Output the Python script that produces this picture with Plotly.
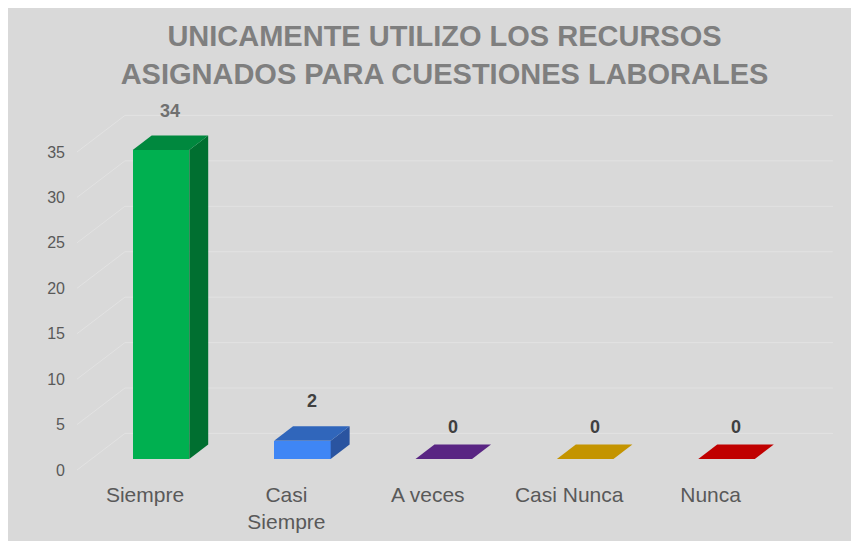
import plotly.graph_objects as go

# data
categories = ["Siempre", "Casi Siempre", "A veces", "Casi Nunca", "Nunca"]
tick_labels = ["Siempre", "Casi<br>Siempre", "A veces", "Casi Nunca", "Nunca"]
values = [34, 2, 0, 0, 0]
y_ticks = [0, 5, 10, 15, 20, 25, 30, 35]

front_colors = ["#00b050", "#3f86f5", "#7030a0", "#ffc000", "#ff0000"]
top_colors = ["#00883e", "#3066bb", "#592583", "#c49400", "#c00000"]
side_colors = ["#006f30", "#2a54a0", "#46205f", "#9c7600", "#990000"]
label_colors = ["#707070", "#404040", "#404040", "#404040", "#404040"]

# page body has an 8px margin, so the figure is a bit smaller than the window
W, H = 851, 533
ML, MR, MT, MB = 69, 9, 87, 65
PW, PH = W - ML - MR, H - MT - MB

X_RANGE = [-0.481, 4.986]
Y_RANGE = [-0.66, 41.27]

# fake 3d geometry (in axis units)
FLOOR_DX, FLOOR_DY = 0.339, 4.02
BACK_RIGHT = 4.865
BAR_SHIFT, BAR_BASE, BAR_W = 0.113, 1.21, 0.40
BAR_DX, BAR_DY = 0.134, 1.6

BG = "#d9d9d9"
GRID = "#e2e2e2"
FONT = "Arial, Liberation Sans, sans-serif"


def px_x(p):
    return (p - ML) / PW


x_pos = list(range(len(categories)))
fig = go.Figure()

fig.add_trace(go.Bar(
    x=[x + BAR_SHIFT for x in x_pos],
    y=values,
    base=BAR_BASE,
    width=BAR_W,
    marker=dict(color=front_colors, line=dict(width=0)),
    hoverinfo="skip",
    showlegend=False,
))

shapes = []
# side wall + back wall gridlines
xl = X_RANGE[0]
for v in y_ticks:
    shapes.append(dict(type="line", xref="x", yref="y", layer="below",
                       x0=xl, y0=v, x1=xl + FLOOR_DX, y1=v + FLOOR_DY,
                       line=dict(color=GRID, width=1)))
    shapes.append(dict(type="line", xref="x", yref="y", layer="below",
                       x0=xl + FLOOR_DX, y0=v + FLOOR_DY, x1=BACK_RIGHT, y1=v + FLOOR_DY,
                       line=dict(color=GRID, width=1)))

# top and side faces of the bars
for x, v, tc, sc in zip(x_pos, values, top_colors, side_colors):
    l = x + BAR_SHIFT - BAR_W / 2
    r = x + BAR_SHIFT + BAR_W / 2
    b = BAR_BASE
    t = BAR_BASE + v
    if v > 0:
        shapes.append(dict(type="path", xref="x", yref="y", layer="above",
                           path=f"M{r},{b} L{r + BAR_DX},{b + BAR_DY} L{r + BAR_DX},{t + BAR_DY} L{r},{t} Z",
                           fillcolor=sc, line=dict(width=0)))
    shapes.append(dict(type="path", xref="x", yref="y", layer="above",
                       path=f"M{l},{t} L{r},{t} L{r + BAR_DX},{t + BAR_DY} L{l + BAR_DX},{t + BAR_DY} Z",
                       fillcolor=tc, line=dict(width=0)))

annotations = []
for x, v, c in zip(x_pos, values, label_colors):
    annotations.append(dict(
        x=x + BAR_SHIFT + BAR_DX / 2, y=BAR_BASE + v + BAR_DY,
        xref="x", yref="y", text=f"<b>{v}</b>", showarrow=False,
        yanchor="middle", yshift=25 if v > 0 else 17,
        font=dict(family=FONT, size=18, color=c),
    ))

fig.update_layout(
    width=W, height=H,
    margin=dict(l=ML, r=MR, t=MT, b=MB),
    paper_bgcolor=BG,
    plot_bgcolor="rgba(0,0,0,0)",
    title=dict(
        text="UNICAMENTE UTILIZO LOS RECURSOS<br>ASIGNADOS PARA CUESTIONES LABORALES",
        x=px_x(436.5), xref="paper", xanchor="center",
        y=1 - 38 / H, yref="container", yanchor="middle",
        font=dict(family=FONT, size=29, color="#7f7f7f", weight="bold"),
    ),
    xaxis=dict(range=X_RANGE, tickvals=x_pos, ticktext=tick_labels,
               showgrid=False, zeroline=False, showline=False, ticks="",
               ticklabelstandoff=4,
               tickfont=dict(family=FONT, size=21, color="#595959")),
    yaxis=dict(range=Y_RANGE, tickvals=y_ticks,
               showgrid=False, zeroline=False, showline=False, ticks="",
               ticklabelstandoff=11,
               tickfont=dict(family=FONT, size=16, color="#595959")),
    shapes=shapes,
    annotations=annotations,
    bargap=0,
)

fig.write_html("out.html")
